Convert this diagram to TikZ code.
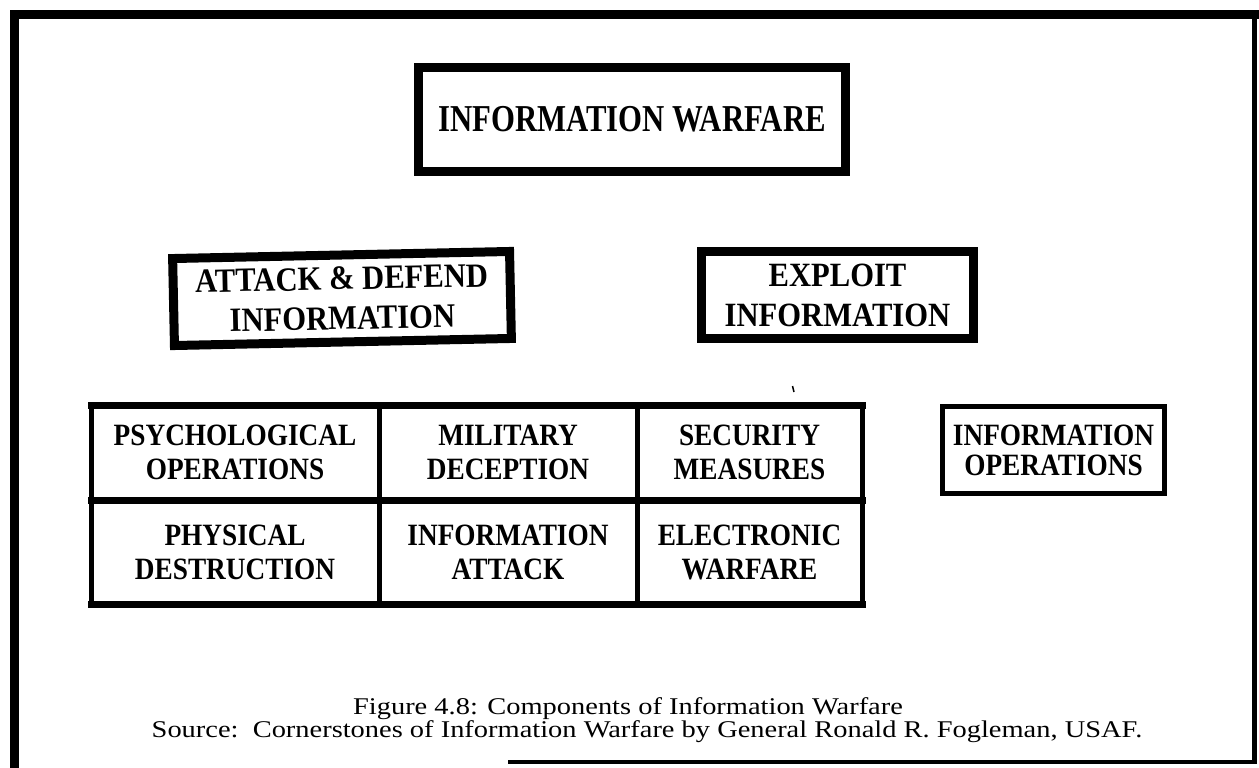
\documentclass[tikz,border=0pt]{standalone}
\usepackage{fontspec}
\setmainfont{Liberation Serif}
\newfontfamily\headfont{Liberation Serif}[FakeStretch=0.81]
\newfontfamily\midfont{Liberation Serif}[FakeStretch=0.90]
\newfontfamily\cellfont{Liberation Serif}[FakeStretch=0.88]
\newfontfamily\capfont{Liberation Serif}[FakeStretch=1.185]

\tikzset{
  heavybox/.style={draw, line width=9pt, inner sep=0pt, outer sep=0pt, align=center},
  headtext/.style={font=\headfont\bfseries\fontsize{38}{42}\selectfont},
  midtext/.style={font=\midfont\bfseries\fontsize{34}{40}\selectfont},
  cell/.style={inner sep=0pt, outer sep=0pt, align=center,
    font=\cellfont\bfseries\fontsize{31}{34}\selectfont},
  lightbox/.style={draw, line width=5pt, inner sep=0pt, outer sep=0pt, align=center,
    font=\cellfont\bfseries\fontsize{31}{30}\selectfont},
  rowline/.style={line width=7pt, line cap=rect},
  colline/.style={line width=5pt},
  caption/.style={anchor=base, inner sep=0pt, font=\capfont\fontsize{24}{24}\selectfont},
  frameline/.style={line width=9pt}
}

\begin{document}
\begin{tikzpicture}[x=1pt, y=-1pt]
  \useasboundingbox (0,0) rectangle (1259,768);
  \fill[white] (0,0) rectangle (1259,768);

  % outer frame
  \coordinate (fbl) at (14.5,768);
  \coordinate (ftl) at (14.5,14.5);
  \coordinate (ftr) at (1254.5,14.5);
  \coordinate (fbr) at (1254.5,762);
  \coordinate (fbs) at (508,762);
  \draw[frameline] (fbl) -- (ftl) -- ([xshift=4pt]ftr);
  \draw[line width=5pt] (ftr) -- ([yshift=2pt]fbr);
  \draw[line width=4pt] ([xshift=2pt]fbr) -- (fbs);

  % top level
  \node[heavybox, headtext, minimum width=427pt, minimum height=103pt]
    (iw) at (632,119.5) {INFORMATION WARFARE};

  % second level
  \node[heavybox, midtext, minimum width=337pt, minimum height=87pt, rotate=1.2]
    (adi) at (342,298.5) {ATTACK \& DEFEND\\INFORMATION};
  \node[heavybox, midtext, minimum width=272pt, minimum height=87pt]
    (exi) at (837.5,295) {EXPLOIT\\INFORMATION};

  % grid of components
  \node[cell, minimum width=288pt, minimum height=95pt]  (psy) at (235,452.5)   {PSYCHOLOGICAL\\OPERATIONS};
  \node[cell, minimum width=258pt, minimum height=95pt]  (mil) at (508,452.5)   {MILITARY\\DECEPTION};
  \node[cell, minimum width=225pt, minimum height=95pt]  (sec) at (749.5,452.5) {SECURITY\\MEASURES};
  \node[cell, minimum width=288pt, minimum height=104pt] (phy) at (235,552)     {PHYSICAL\\DESTRUCTION};
  \node[cell, minimum width=258pt, minimum height=104pt] (iat) at (508,552)     {INFORMATION\\ATTACK};
  \node[cell, minimum width=225pt, minimum height=104pt] (elw) at (749.5,552)   {ELECTRONIC\\WARFARE};

  \draw[rowline] (psy.north west) -- (sec.north east);
  \draw[rowline] (psy.south west) -- (sec.south east);
  \draw[rowline] (phy.south west) -- (elw.south east);
  \draw[colline] (psy.north west) -- (phy.south west);
  \draw[colline] (psy.north east) -- (phy.south east);
  \draw[colline] (mil.north east) -- (iat.south east);
  \draw[colline] (sec.north east) -- (elw.south east);

  % stand-alone box
  \node[lightbox, minimum width=222pt, minimum height=87pt]
    (iop) at (1053.5,450) {INFORMATION\\OPERATIONS};

  % small mark
  \draw[line width=1.5pt] (792.5,386) -- (794,392);

  % caption
  \node[caption] (cap1) at (628,714) {Figure 4.8: Components of Information Warfare};
  \node[caption] (cap2) at (647,737) {Source:\ \ Cornerstones of Information Warfare by General Ronald R. Fogleman, USAF.};
\end{tikzpicture}
\end{document}
